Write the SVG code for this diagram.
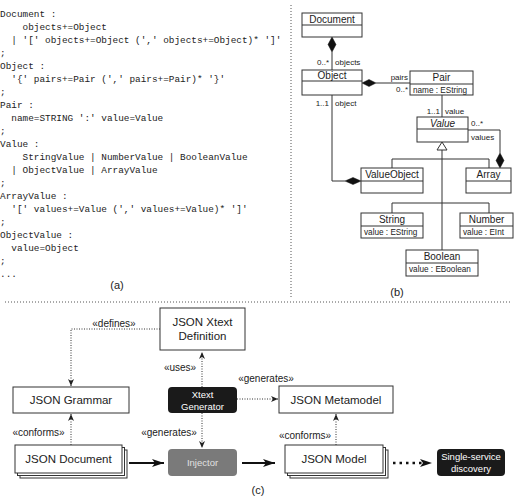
<svg xmlns="http://www.w3.org/2000/svg" width="517" height="497" viewBox="0 0 517 497">
<style>
.code{font-family:"Liberation Mono",monospace;font-size:9.4px;fill:#222;white-space:pre}
.cap{font-family:"Liberation Sans",Arial,sans-serif;font-size:11px;fill:#222;text-anchor:middle}
.cls{fill:#fff;stroke:#333;stroke-width:1}
.cn{font-family:"Liberation Sans",Arial,sans-serif;font-size:10px;fill:#222;text-anchor:middle}
.at{font-family:"Liberation Sans",Arial,sans-serif;font-size:8.2px;fill:#222}
.lb{font-family:"Liberation Sans",Arial,sans-serif;font-size:8px;fill:#222}
.ln{fill:none;stroke:#333;stroke-width:1}
.sep{fill:none;stroke:#555;stroke-width:1;stroke-dasharray:1 2}
.box{fill:#fff;stroke:#333;stroke-width:1}
.bt{font-family:"Liberation Sans",Arial,sans-serif;font-size:11.5px;fill:#222;text-anchor:middle}
.st{font-family:"Liberation Sans",Arial,sans-serif;font-size:10px;fill:#222;text-anchor:middle}
.wt{font-family:"Liberation Sans",Arial,sans-serif;font-size:9.5px;fill:#fff;text-anchor:middle}
.dot{fill:none;stroke:#333;stroke-width:1;stroke-dasharray:1 1.5}
.dia{fill:#111;stroke:#111;stroke-width:0.5}
</style>
<defs>
<marker id="sm" markerUnits="userSpaceOnUse" markerWidth="8" markerHeight="7" refX="7" refY="3" orient="auto">
<path d="M0,0 L7,3 L0,6 L2,3 Z" fill="#222"/>
</marker>
<marker id="big" markerUnits="userSpaceOnUse" markerWidth="14" markerHeight="10" refX="12" refY="4" orient="auto">
<path d="M0,0 L12,4 L0,8 L3,4 Z" fill="#111"/>
</marker>
</defs>

<g id="separators">
<line class="sep" x1="291" y1="5" x2="291" y2="297"/>
<line class="sep" x1="5" y1="302" x2="512" y2="302"/>
</g>

<g id="grammar">
<text class="code" xml:space="preserve" x="0" y="16.6">Document :</text>
<text class="code" xml:space="preserve" x="0" y="29.6">    objects+=Object</text>
<text class="code" xml:space="preserve" x="0" y="42.6">  | '[' objects+=Object (',' objects+=Object)* ']'</text>
<text class="code" xml:space="preserve" x="0" y="55.6">;</text>
<text class="code" xml:space="preserve" x="0" y="68.6">Object :</text>
<text class="code" xml:space="preserve" x="0" y="81.6">  '{' pairs+=Pair (',' pairs+=Pair)* '}'</text>
<text class="code" xml:space="preserve" x="0" y="94.6">;</text>
<text class="code" xml:space="preserve" x="0" y="107.6">Pair :</text>
<text class="code" xml:space="preserve" x="0" y="120.6">  name=STRING ':' value=Value</text>
<text class="code" xml:space="preserve" x="0" y="133.6">;</text>
<text class="code" xml:space="preserve" x="0" y="146.6">Value :</text>
<text class="code" xml:space="preserve" x="0" y="159.6">    StringValue | NumberValue | BooleanValue</text>
<text class="code" xml:space="preserve" x="0" y="172.6">  | ObjectValue | ArrayValue</text>
<text class="code" xml:space="preserve" x="0" y="185.6">;</text>
<text class="code" xml:space="preserve" x="0" y="198.6">ArrayValue :</text>
<text class="code" xml:space="preserve" x="0" y="211.6">  '[' values+=Value (',' values+=Value)* ']'</text>
<text class="code" xml:space="preserve" x="0" y="224.6">;</text>
<text class="code" xml:space="preserve" x="0" y="237.6">ObjectValue :</text>
<text class="code" xml:space="preserve" x="0" y="250.6">  value=Object</text>
<text class="code" xml:space="preserve" x="0" y="263.6">;</text>
<text class="code" xml:space="preserve" x="0" y="276.6">...</text>
<text class="cap" x="117" y="289">(a)</text>
</g>

<g id="uml-connectors">
<line class="ln" x1="332" y1="52" x2="332" y2="70"/>
<polygon class="dia" points="332,37 336,44.5 332,52 328,44.5"/>
<line class="ln" x1="376" y1="83" x2="410" y2="83"/>
<polygon class="dia" points="362,83 369,79.5 376,83 369,86.5"/>
<line class="ln" x1="442" y1="95" x2="442" y2="117"/>
<polyline class="ln" points="468,130 500,130 500,153"/>
<polygon class="dia" points="500,153 504,160.5 500,168 496,160.5"/>
<polyline class="ln" points="332,95 332,181 345,181"/>
<polygon class="dia" points="345,181 353,177.5 361,181 353,184.5"/>
<line class="ln" x1="442" y1="150" x2="442" y2="250"/>
<polyline class="ln" points="392,168 392,159 489,159 489,168"/>
<polyline class="ln" points="392,213 392,203 489,203 489,213"/>
<polygon points="442,142 447,150 437,150" fill="#fff" stroke="#333" stroke-width="1"/>
<text class="lb" x="329" y="65" text-anchor="end">0..*</text>
<text class="lb" x="335" y="65">objects</text>
<text class="lb" x="408" y="80" text-anchor="end">pairs</text>
<text class="lb" x="408" y="92" text-anchor="end">0..*</text>
<text class="lb" x="440" y="114" text-anchor="end">1..1</text>
<text class="lb" x="445" y="114">value</text>
<text class="lb" x="471" y="126">0..*</text>
<text class="lb" x="471" y="140">values</text>
<text class="lb" x="329" y="106" text-anchor="end">1..1</text>
<text class="lb" x="335" y="106">object</text>
</g>

<g id="Document">
<rect class="cls" x="302" y="13" width="60" height="24"/>
<line class="ln" x1="302" y1="25" x2="362" y2="25"/>
<text class="cn" x="332" y="22.5">Document</text>
</g>
<g id="Object">
<rect class="cls" x="302" y="70" width="60" height="25"/>
<line class="ln" x1="302" y1="81" x2="362" y2="81"/>
<text class="cn" x="332" y="79">Object</text>
</g>
<g id="Pair">
<rect class="cls" x="410" y="71" width="63" height="24"/>
<line class="ln" x1="410" y1="84" x2="473" y2="84"/>
<text class="cn" x="441.5" y="81">Pair</text>
<text class="at" x="413" y="92.5">name : EString</text>
</g>
<g id="Value">
<rect class="cls" x="417" y="117" width="51" height="25"/>
<line class="ln" x1="417" y1="129" x2="468" y2="129"/>
<text class="cn" x="442.5" y="126.5" font-style="italic">Value</text>
</g>
<g id="ValueObject">
<rect class="cls" x="361" y="168" width="62" height="25"/>
<line class="ln" x1="361" y1="181" x2="423" y2="181"/>
<text class="cn" x="392" y="178">ValueObject</text>
</g>
<g id="Array">
<rect class="cls" x="466" y="168" width="45" height="25"/>
<line class="ln" x1="466" y1="181" x2="511" y2="181"/>
<text class="cn" x="488.5" y="178">Array</text>
</g>
<g id="String">
<rect class="cls" x="361" y="213" width="62" height="25"/>
<line class="ln" x1="361" y1="226" x2="423" y2="226"/>
<text class="cn" x="392" y="223">String</text>
<text class="at" x="364" y="234.5">value : EString</text>
</g>
<g id="Number">
<rect class="cls" x="460" y="213" width="53" height="25"/>
<line class="ln" x1="460" y1="226" x2="513" y2="226"/>
<text class="cn" x="486.5" y="223">Number</text>
<text class="at" x="463" y="234.5">value : EInt</text>
</g>
<g id="Boolean">
<rect class="cls" x="406" y="250" width="72" height="26"/>
<line class="ln" x1="406" y1="263" x2="478" y2="263"/>
<text class="cn" x="442" y="260">Boolean</text>
<text class="at" x="409" y="272">value : EBoolean</text>
</g>
<text class="cap" x="397" y="296">(b)</text>

<g id="c-connectors">
<polyline class="dot" points="160,329 71,329 71,386" marker-end="url(#sm)"/>
<line class="dot" x1="202" y1="387" x2="202" y2="352" marker-end="url(#sm)"/>
<line class="dot" x1="237" y1="399" x2="278" y2="399" marker-end="url(#sm)"/>
<line class="dot" x1="71" y1="445" x2="71" y2="414" marker-end="url(#sm)"/>
<line class="dot" x1="202" y1="413" x2="202" y2="448" marker-end="url(#sm)"/>
<line class="dot" x1="336" y1="445" x2="336" y2="414" marker-end="url(#sm)"/>
<line x1="129" y1="463" x2="164" y2="463" stroke="#111" stroke-width="2" marker-end="url(#big)"/>
<line x1="242" y1="463" x2="275" y2="463" stroke="#111" stroke-width="2" marker-end="url(#big)"/>
<line x1="393" y1="463" x2="423" y2="463" stroke="#111" stroke-width="2.5" stroke-dasharray="2.5 4"/>
<path d="M420,459 L432,463 L420,467 L423,463 Z" fill="#111"/>
<text class="st" x="114" y="326.5">«defines»</text>
<text class="st" x="180" y="370.5">«uses»</text>
<text class="st" x="266" y="381.5">«generates»</text>
<text class="st" x="38.5" y="435.5">«conforms»</text>
<text class="st" x="169" y="435.5">«generates»</text>
<text class="st" x="305" y="438.5">«conforms»</text>
</g>

<g id="XtextDefinition">
<rect class="box" x="160" y="308" width="85" height="42"/>
<text class="bt" x="202.5" y="326">JSON Xtext</text>
<text class="bt" x="202.5" y="340">Definition</text>
</g>
<g id="JSONGrammar">
<rect class="box" x="13" y="387" width="116" height="26"/>
<text class="bt" x="71" y="404">JSON Grammar</text>
</g>
<g id="XtextGenerator">
<rect x="168" y="387" width="69" height="26" rx="4" fill="#1a1a1a"/>
<text class="wt" x="202.5" y="397.5">Xtext</text>
<text class="wt" x="202.5" y="409.5">Generator</text>
</g>
<g id="JSONMetamodel">
<rect class="box" x="279" y="386" width="114" height="27"/>
<text class="bt" x="336" y="404">JSON Metamodel</text>
</g>
<g id="JSONDocument">
<rect class="box" x="20" y="450" width="107" height="28"/>
<rect class="box" x="17.5" y="447.5" width="107" height="28"/>
<rect class="box" x="15" y="445" width="107" height="28"/>
<text class="bt" x="68.5" y="463">JSON Document</text>
</g>
<g id="Injector">
<rect x="168" y="449" width="69" height="27" rx="4" fill="#7a7a7a"/>
<text class="wt" x="202.5" y="466" style="fill:#e0e0e0">Injector</text>
</g>
<g id="JSONModel">
<rect class="box" x="290" y="450" width="98" height="28"/>
<rect class="box" x="287.5" y="447.5" width="98" height="28"/>
<rect class="box" x="285" y="445" width="98" height="28"/>
<text class="bt" x="334" y="463">JSON Model</text>
</g>
<g id="SingleService">
<rect x="437" y="449" width="68" height="27" rx="4" fill="#1a1a1a"/>
<text class="wt" x="471" y="459.5">Single-service</text>
<text class="wt" x="471" y="471.5">discovery</text>
</g>
<text class="cap" x="258" y="494">(c)</text>
</svg>
